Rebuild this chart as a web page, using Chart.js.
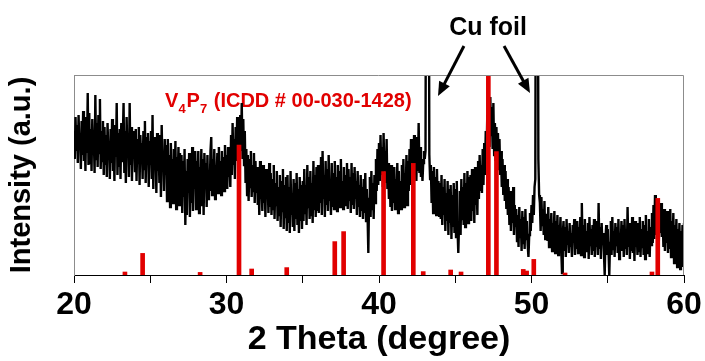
<!DOCTYPE html>
<html>
<head>
<meta charset="utf-8">
<script src="https://cdn.jsdelivr.net/npm/chart.js@4/dist/chart.umd.min.js"></script>
<style>
html,body{margin:0;padding:0;background:#fff;}
#wrap{width:705px;height:361px;}
</style>
</head>
<body>
<div id="wrap"><canvas id="c" width="705" height="361"></canvas></div>
<script>
// ---- DATA ----
const thetaStart = 20;     // 2θ of first sample
const thetaStep = 0.05;    // 2θ step between samples
// measured intensity (a.u., 0..100 = frame height), one row per degree, 20 samples each
const intensity = [
  72,58,79,62,75,56,80,64,70,53,77,60,82,57,74,52,79,61,91,55,
  81,56,73,52,78,63,69,51,90,58,76,54,80,61,88,53,72,57,77,50,
  74,55,70,49,76,60,67,48,73,56,78,52,69,47,75,59,86,50,71,54,
  73,48,76,57,68,86,51,72,46,79,60,70,49,86,55,74,47,69,58,72,
  52,73,47,68,56,74,45,70,58,66,48,72,53,77,46,69,57,71,44,67,
  55,72,48,80,43,69,58,66,41,71,52,64,46,70,39,75,54,62,42,68,
  50,65,37,68,45,60,34,66,52,58,36,63,42,67,33,59,48,64,35,61,
  44,60,31,57,39,63,25,52,30,58,41,61,29,55,36,64,32,59,43,62,
  33,57,45,62,31,54,40,63,35,58,30,61,47,56,34,60,38,52,42,62,
  69,40,58,45,63,38,55,48,61,41,64,46,57,40,62,44,59,42,65,47,
  60,43,64,49,58,44,70,50,76,55,68,48,74,57,79,60,66,56,80,62,
  86,58,78,55,72,46,63,40,60,37,58,44,62,39,55,42,61,36,57,41,
  54,35,50,30,57,38,46,32,55,36,49,29,53,40,47,31,56,34,51,30,
  48,33,55,28,46,35,52,27,44,30,50,24,47,32,53,23,45,29,49,22,
  50,26,44,21,52,30,41,24,48,22,46,28,51,25,43,21,49,27,45,23,
  47,27,53,31,45,25,55,34,49,28,52,30,46,26,57,33,50,29,54,32,
  55,31,52,36,59,30,62,38,50,29,57,35,53,32,60,37,48,30,56,34,
  51,33,57,38,49,32,55,40,52,34,58,36,47,33,54,39,50,35,56,33,
  53,37,49,31,56,35,51,33,54,38,47,30,52,34,45,29,50,32,44,28,
  48,31,51,27,43,30,11,38,49,29,52,33,46,28,50,36,58,42,63,45,
  66,47,70,50,64,44,71,52,62,46,68,43,56,38,53,34,55,32,50,36,
  54,33,48,36,56,31,52,37,47,33,55,38,58,34,51,40,60,35,57,42,
  63,45,68,48,61,44,70,50,66,47,69,52,76,51,64,49,58,47,56,62,
  58,62,240,260,260,240,60,48,55,36,52,31,54,38,49,30,53,35,47,29,
  46,28,50,25,44,30,48,22,41,27,47,20,43,26,45,18,40,24,46,21,
  43,19,47,23,11,26,42,20,48,28,44,25,51,24,46,29,52,26,49,31,
  50,27,53,32,47,26,54,35,49,30,57,38,60,42,55,41,63,45,66,50,
  72,58,80,62,85,64,89,70,84,63,86,60,76,57,74,53,71,55,68,50,
  62,44,58,40,55,37,52,33,48,30,44,25,42,22,38,26,44,20,35,24,
  33,17,30,14,34,19,28,12,32,16,29,13,33,18,27,15,9,20,31,22,
  35,26,40,30,44,48,240,260,240,58,40,36,22,39,25,33,20,37,18,30,
  30,17,34,14,28,19,31,12,26,16,32,11,27,15,30,10,25,18,29,13,
  1,20,27,12,24,9,28,15,22,11,26,14,21,9,25,16,28,10,23,13,
  27,11,24,15,29,10,36,13,25,9,28,14,22,12,26,8,29,15,23,10,
  25,12,28,9,22,14,27,10,36,13,24,8,26,15,21,11,0,18,25,10,
  23,12,0,16,27,10,29,13,22,9,26,15,24,11,28,8,21,14,27,12,
  25,9,28,13,22,10,34,14,26,8,23,12,29,11,24,7,27,14,22,10,
  26,12,29,9,23,14,27,10,25,8,30,13,22,11,28,9,24,15,31,16,
  35,18,40,20,34,22,37,17,33,21,36,19,31,14,33,12,28,16,32,11,
  30,13,33,9,27,12,31,6,25,10,28,4,23,8,26,3,22,7,25,4,
  26
];
// reference pattern V4P7 (ICDD # 00-030-1428)
const refPositions = [23.34, 24.5, 28.27, 30.82, 31.65, 33.95, 37.1, 37.68, 40.3, 42.25, 42.9, 44.7, 45.38, 47.17, 47.7, 49.46, 49.68, 50.15, 52.2, 57.9, 58.28];
const refHeights   = [1.5, 10.8, 1.3, 65, 3, 3.7, 16.7, 21.7, 51.7, 55.8, 1.7, 2.5, 1.5, 100, 61.7, 2.8, 2, 7.8, 1, 1.5, 38.3];
const xTickLabels = [20, 30, 40, 50, 60];
const refLabelParts = [["V", false], ["4", true], ["P", false], ["7", true], [" (ICDD # 00-030-1428)", false]];
const cuLabel = "Cu foil";

// ---- CHART ----
const FONT = "'Liberation Sans', Arial, sans-serif";
const RED = '#e10000';

const lineData = intensity.map((v, i) => ({ x: +(thetaStart + i * thetaStep).toFixed(2), y: v }));
const barData = refPositions.map((p, i) => ({ x: p, y: refHeights[i] }));

const annot = {
  id: 'annot',
  beforeDatasetsDraw(chart) {
    const { ctx, scales: { x, y } } = chart;
    ctx.save();
    ctx.fillStyle = RED;
    ctx.textBaseline = 'alphabetic';
    ctx.textAlign = 'left';
    let px = x.getPixelForValue(25.97);
    const py = y.getPixelForValue(84);
    for (const [t, sub] of refLabelParts) {
      ctx.font = sub ? "bold 13px " + FONT : "bold 20px " + FONT;
      ctx.fillText(t, px, sub ? py + 6 : py);
      px += ctx.measureText(t).width + (sub ? 1 : 0);
    }
    ctx.restore();
  },
  afterDraw(chart) {
    const { ctx, chartArea: a, scales: { x, y } } = chart;
    ctx.save();
    // frame top & right
    ctx.strokeStyle = '#8c8c8c';
    ctx.lineWidth = 1;
    ctx.beginPath();
    ctx.moveTo(a.left, a.top + 0.5);
    ctx.lineTo(a.right - 0.5, a.top + 0.5);
    ctx.lineTo(a.right - 0.5, a.bottom);
    ctx.stroke();
    // Cu foil label
    ctx.fillStyle = '#000';
    ctx.font = "bold 25px " + FONT;
    ctx.textAlign = 'center';
    ctx.textBaseline = 'alphabetic';
    ctx.fillText(cuLabel, x.getPixelForValue(47.15), y.getPixelForValue(120));
    // arrows
    const arrows = [[45.57, 114.5, 43.87, 89.5], [48.2, 114.5, 49.9, 91]];
    for (const [x0, y0, x1, y1] of arrows) {
      const ax = x.getPixelForValue(x0), ay = y.getPixelForValue(y0);
      const bx = x.getPixelForValue(x1), by = y.getPixelForValue(y1);
      const dx = bx - ax, dy = by - ay, L = Math.hypot(dx, dy);
      const ux = dx / L, uy = dy / L;
      const hl = 14, hw = 6;
      const sx = bx - ux * hl, sy = by - uy * hl;
      ctx.strokeStyle = '#000';
      ctx.lineWidth = 3;
      ctx.beginPath();
      ctx.moveTo(ax, ay);
      ctx.lineTo(sx + ux * 2, sy + uy * 2);
      ctx.stroke();
      ctx.beginPath();
      ctx.moveTo(bx, by);
      ctx.lineTo(sx - uy * hw, sy + ux * hw);
      ctx.lineTo(sx + uy * hw, sy - ux * hw);
      ctx.closePath();
      ctx.fill();
    }
    ctx.restore();
  }
};

new Chart(document.getElementById('c').getContext('2d'), {
  type: 'line',
  data: {
    datasets: [
      { type: 'bar', label: 'V4P7', data: barData, backgroundColor: RED, borderWidth: 0, barThickness: 4, order: 1 },
      { type: 'line', label: 'sample', data: lineData, borderColor: '#000', borderWidth: 2.4, pointRadius: 0, tension: 0, fill: false, order: 2 }
    ]
  },
  options: {
    responsive: false,
    animation: false,
    devicePixelRatio: 1,
    layout: { padding: { top: 75, right: 21, bottom: 0, left: 0 } },
    plugins: { legend: { display: false }, tooltip: { enabled: false } },
    scales: {
      x: {
        type: 'linear', min: 20, max: 60, offset: false,
        ticks: {
          stepSize: 5, autoSkip: false, maxRotation: 0, minRotation: 0, padding: 3, color: '#000',
          font: { family: FONT, size: 32, weight: 'bold' },
          callback: v => xTickLabels.includes(v) ? String(v) : ''
        },
        grid: { display: true, drawOnChartArea: false, drawTicks: true, tickLength: 8, color: '#000', offset: false },
        border: { display: true, color: '#000', width: 1 },
        title: { display: true, text: '2 Theta (degree)', color: '#000', font: { family: FONT, size: 34, weight: 'bold' }, padding: { top: 0, bottom: 1 } },
        afterFit: s => { s.height = 86; }
      },
      y: {
        min: 0, max: 100,
        ticks: { display: false },
        grid: { display: false },
        border: { display: true, color: '#8c8c8c', width: 1 },
        title: { display: true, text: 'Intensity (a.u.)', color: '#000', font: { family: FONT, size: 29, weight: 'bold' }, padding: { top: 5, bottom: 0 } },
        afterFit: s => { s.width = 74; }
      }
    }
  },
  plugins: [annot]
});
</script>
</body>
</html>
